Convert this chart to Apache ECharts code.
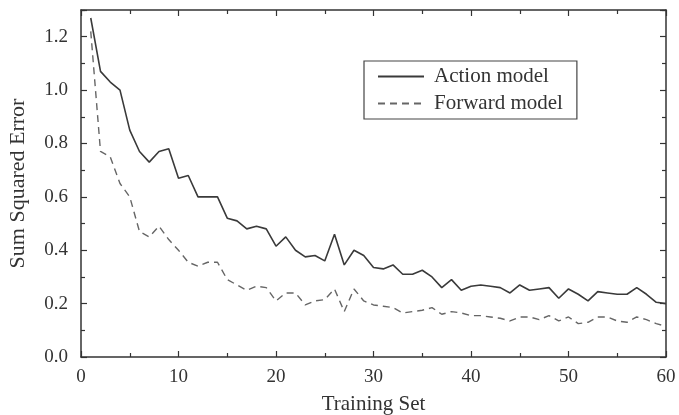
<!DOCTYPE html>
<html>
<head>
<meta charset="utf-8">
<script src="https://cdn.jsdelivr.net/npm/echarts@6/dist/echarts.min.js"></script>
<style>
html,body{margin:0;padding:0;background:#fff;}
#chart{width:679px;height:415px;}
</style>
</head>
<body>
<div id="chart"></div>
<script>
const trainingSets = [1,2,3,4,5,6,7,8,9,10,11,12,13,14,15,16,17,18,19,20,21,22,23,24,25,26,27,28,29,30,31,32,33,34,35,36,37,38,39,40,41,42,43,44,45,46,47,48,49,50,51,52,53,54,55,56,57,58,59,60];
const actionModel = [1.27,1.07,1.03,1.00,0.85,0.77,0.73,0.77,0.78,0.67,0.68,0.60,0.60,0.60,0.52,0.51,0.48,0.49,0.48,0.415,0.45,0.40,0.375,0.38,0.36,0.46,0.345,0.40,0.38,0.335,0.33,0.345,0.31,0.31,0.325,0.30,0.26,0.29,0.25,0.265,0.27,0.265,0.26,0.24,0.27,0.25,0.255,0.26,0.22,0.255,0.235,0.21,0.245,0.24,0.235,0.235,0.26,0.235,0.205,0.20];
const forwardModel = [1.22,0.77,0.75,0.65,0.60,0.47,0.45,0.49,0.44,0.40,0.355,0.34,0.355,0.355,0.29,0.27,0.25,0.265,0.26,0.21,0.24,0.24,0.195,0.21,0.215,0.255,0.17,0.255,0.21,0.195,0.19,0.185,0.165,0.17,0.175,0.185,0.16,0.17,0.165,0.155,0.155,0.15,0.145,0.135,0.15,0.15,0.14,0.155,0.135,0.15,0.125,0.13,0.15,0.15,0.135,0.13,0.15,0.14,0.125,0.115];
const seriesNames = ['Action model','Forward model'];
const xTitle = 'Training Set';
const yTitle = 'Sum Squared Error';

const FONT = "'Liberation Serif','DejaVu Serif',serif";
const AX = '#333';
const chart = echarts.init(document.getElementById('chart'), null, {renderer:'canvas'});

function xAxisBase(show){
  return {
    type:'value', min:0, max:60, interval:10,
    axisLine:{show:true, onZero:false, lineStyle:{color:AX, width:1.5}},
    axisTick:{show:true, inside:true, length:6, lineStyle:{color:AX, width:1.2}},
    minorTick:{show:true, splitNumber:2, length:4, lineStyle:{color:AX, width:1.2}},
    splitLine:{show:false},
    axisLabel:{show:show, color:'#333', fontFamily:FONT, fontSize:19, margin:11}
  };
}
function yAxisBase(show){
  return {
    type:'value', min:0, max:1.3, interval:0.2,
    axisLine:{show:true, onZero:false, lineStyle:{color:AX, width:1.5}},
    axisTick:{show:true, inside:true, length:6, lineStyle:{color:AX, width:1.2}},
    minorTick:{show:true, splitNumber:2, length:4, lineStyle:{color:AX, width:1.2}},
    splitLine:{show:false},
    axisLabel:{show:show, color:'#333', fontFamily:FONT, fontSize:19, margin:13, showMaxLabel:false,
      formatter:v => v.toFixed(1)}
  };
}

const xb = xAxisBase(true);
xb.name = xTitle; xb.nameLocation = 'middle'; xb.nameGap = 37;
xb.nameTextStyle = {color:'#333', fontFamily:FONT, fontSize:21};
const xt = xAxisBase(false); xt.position = 'top';
const yl = yAxisBase(true);
yl.name = yTitle; yl.nameLocation = 'middle'; yl.nameGap = 52;
yl.nameTextStyle = {color:'#333', fontFamily:FONT, fontSize:22};
const yr = yAxisBase(false); yr.position = 'right';

chart.setOption({
  backgroundColor:'#fff',
  animation:false,
  grid:{left:81, right:13, top:10, bottom:58, containLabel:false, outerBoundsMode:'none'},
  legend:{
    orient:'vertical', left:364, top:61, align:'left',
    padding:[5,14,5,13], itemGap:6, itemWidth:46, itemHeight:14,
    borderColor:'#444', borderWidth:1.2, backgroundColor:'#fff',
    itemStyle:{color:'rgba(0,0,0,0)', borderColor:'rgba(0,0,0,0)', borderWidth:0},
    textStyle:{color:'#333', fontFamily:FONT, fontSize:21, padding:[0,0,0,5]},
    data:seriesNames
  },
  xAxis:[xb, xt],
  yAxis:[yl, yr],
  series:[
    {name:seriesNames[0], type:'line', data:trainingSets.map((x,i)=>[x, actionModel[i]]),
     symbol:'none', lineStyle:{color:'#3a3a3a', width:1.6, type:'solid'}, itemStyle:{color:'#3a3a3a'}},
    {name:seriesNames[1], type:'line', data:trainingSets.map((x,i)=>[x, forwardModel[i]]),
     symbol:'none', lineStyle:{color:'#666', width:1.4, type:[7,5]}, itemStyle:{color:'#666'}}
  ]
});
</script>
</body>
</html>
